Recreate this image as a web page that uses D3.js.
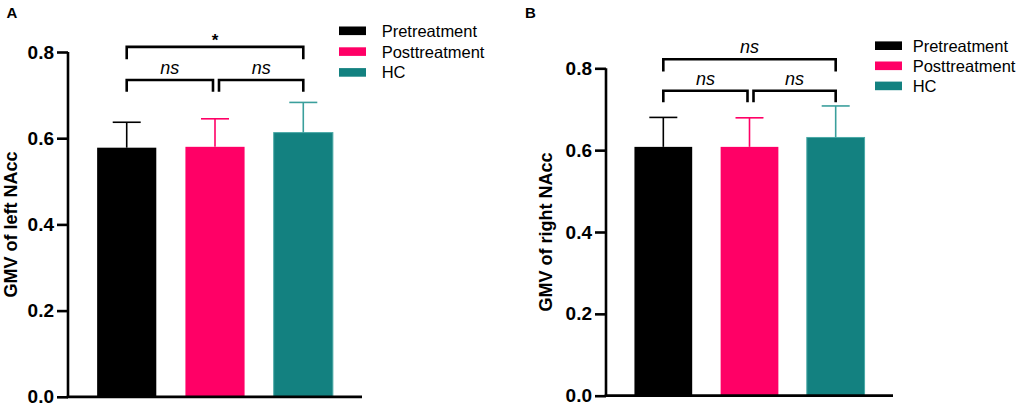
<!DOCTYPE html>
<html>
<head>
<meta charset="utf-8">
<script src="https://cdn.jsdelivr.net/npm/d3@7"></script>
<style>
  body { margin: 0; background: #fff; }
  svg { display: block; font-family: "Liberation Sans", Arial, sans-serif; }
</style>
</head>
<body>
<div id="chart"></div>
<script>
// groups and values
const groups = ["Pretreatment", "Posttreatment", "HC"];
const colors = ["#000000", "#ff0066", "#138180"];
const errColors = ["#000000", "#ff0066", "#3a9f9c"];
const yTicks = [0.0, 0.2, 0.4, 0.6, 0.8];

const leftMeans = [0.578, 0.580, 0.613];
const leftUpper = [0.637, 0.645, 0.683];
const rightMeans = [0.608, 0.608, 0.631];
const rightUpper = [0.680, 0.679, 0.708];

// comparisons: [from, to, bracket level, tick end level, label]
const leftComps = [
    [0, 2, 0.812, 0.783, "*"],
    [0, 1, 0.735, 0.708, "ns"],
    [1, 2, 0.735, 0.708, "ns"]
];
const rightComps = [
    [0, 2, 0.822, 0.792, "ns"],
    [0, 1, 0.745, 0.717, "ns"],
    [1, 2, 0.745, 0.717, "ns"]
];

const width = 1021, height = 409;

const svg = d3.select("#chart").append("svg")
    .attr("width", width)
    .attr("height", height);

function drawPanel(p) {
    const g = svg.append("g");

    const x = d3.scaleBand()
        .domain(groups)
        .range([p.x0, p.x1])
        .paddingInner(0.33)
        .paddingOuter(0.33);

    const y = d3.scaleLinear()
        .domain([0, 0.8])
        .range([p.y0, p.y1]);

    // panel letter
    g.append("text")
        .attr("x", p.letterX)
        .attr("y", 18.3)
        .style("font-size", "15px")
        .style("font-weight", "bold")
        .text(p.letter);

    // bars
    g.selectAll("rect.bar")
        .data(groups)
        .join("rect")
        .attr("class", "bar")
        .attr("x", d => x(d))
        .attr("width", x.bandwidth())
        .attr("y", (d, i) => y(p.means[i]))
        .attr("height", (d, i) => y(0) - y(p.means[i]))
        .attr("fill", (d, i) => colors[i])
        .attr("stroke", (d, i) => i == 2 ? "#4aa9a6" : "none")
        .attr("stroke-width", 1);

    // error bars (upper only)
    const cap = 14;
    groups.forEach((d, i) => {
        const cx = x(d) + x.bandwidth() / 2;
        g.append("line")
            .attr("x1", cx).attr("x2", cx)
            .attr("y1", y(p.means[i])).attr("y2", y(p.upper[i]))
            .attr("stroke", errColors[i])
            .attr("stroke-width", 1.6);
        g.append("line")
            .attr("x1", cx - cap).attr("x2", cx + cap)
            .attr("y1", y(p.upper[i])).attr("y2", y(p.upper[i]))
            .attr("stroke", errColors[i])
            .attr("stroke-width", 1.6);
    });

    // axes
    const yAxis = g.append("g")
        .attr("transform", `translate(${p.x0},0)`)
        .call(d3.axisLeft(y).tickValues(yTicks).tickFormat(d3.format(".1f")).tickSize(11).tickPadding(3));
    yAxis.select(".domain").attr("stroke-width", 2.6).attr("d", `M0,${y(0) + 1.3}V${y(0.8)}`);
    yAxis.selectAll(".tick line").attr("stroke-width", 2.6);
    yAxis.selectAll(".tick text")
        .style("font-size", "19px")
        .style("font-weight", "bold")
        .style("font-family", "'Liberation Sans', Arial, sans-serif")
        .attr("fill", "#000");

    g.append("line")
        .attr("x1", p.x0 - 1.3).attr("x2", p.x1)
        .attr("y1", y(0)).attr("y2", y(0))
        .attr("stroke", "#000")
        .attr("stroke-width", 2.8);

    // y label
    g.append("text")
        .attr("transform", `translate(${p.labelX},${(y(0) + y(0.8)) / 2}) rotate(-90)`)
        .attr("text-anchor", "middle")
        .style("font-size", "18px")
        .style("font-weight", "bold")
        .text(p.ylabel);

    // significance brackets
    p.comps.forEach(c => {
        let xa = x(groups[c[0]]) + x.bandwidth() / 2;
        let xb = x(groups[c[1]]) + x.bandwidth() / 2;
        if (c[1] - c[0] == 1) {
            if (c[1] == 1) xb -= 2;
            if (c[0] == 1) xa += 4;
        }
        g.append("path")
            .attr("d", `M${xa},${y(c[3])}V${y(c[2])}H${xb}V${y(c[3])}`)
            .attr("fill", "none")
            .attr("stroke", "#000")
            .attr("stroke-width", 2.6);
        const isStar = c[4] == "*";
        g.append("text")
            .attr("x", (xa + xb) / 2)
            .attr("y", y(c[2]) - (isStar ? 1 : 6))
            .attr("text-anchor", "middle")
            .style("font-size", isStar ? "17px" : "18px")
            .style("font-style", isStar ? "normal" : "italic")
            .style("font-weight", isStar ? "bold" : "normal")
            .text(c[4]);
    });

    // legend
    const legend = g.append("g")
        .attr("transform", `translate(${p.legX},${p.legY})`);
    groups.forEach((d, i) => {
        const row = legend.append("g")
            .attr("transform", `translate(0,${i * p.legStep})`);
        row.append("rect")
            .attr("x", 0).attr("y", -4.3)
            .attr("width", 27).attr("height", 8.6)
            .attr("fill", colors[i]);
        row.append("text")
            .attr("x", p.legText)
            .attr("y", 6)
            .style("font-size", "16.5px")
            .text(d);
    });
}

drawPanel({
    letter: "A", letterX: 6.5,
    x0: 68, x1: 362, y0: 396.8, y1: 52,
    means: leftMeans, upper: leftUpper, comps: leftComps,
    ylabel: "GMV of left NAcc", labelX: 17,
    legX: 339, legY: 30.8, legStep: 20.8, legText: 42.7
});

drawPanel({
    letter: "B", letterX: 525,
    x0: 606, x1: 893, y0: 395.7, y1: 68.3,
    means: rightMeans, upper: rightUpper, comps: rightComps,
    ylabel: "GMV of right NAcc", labelX: 552,
    legX: 875, legY: 45.7, legStep: 20.1, legText: 37.7
});
</script>
</body>
</html>
